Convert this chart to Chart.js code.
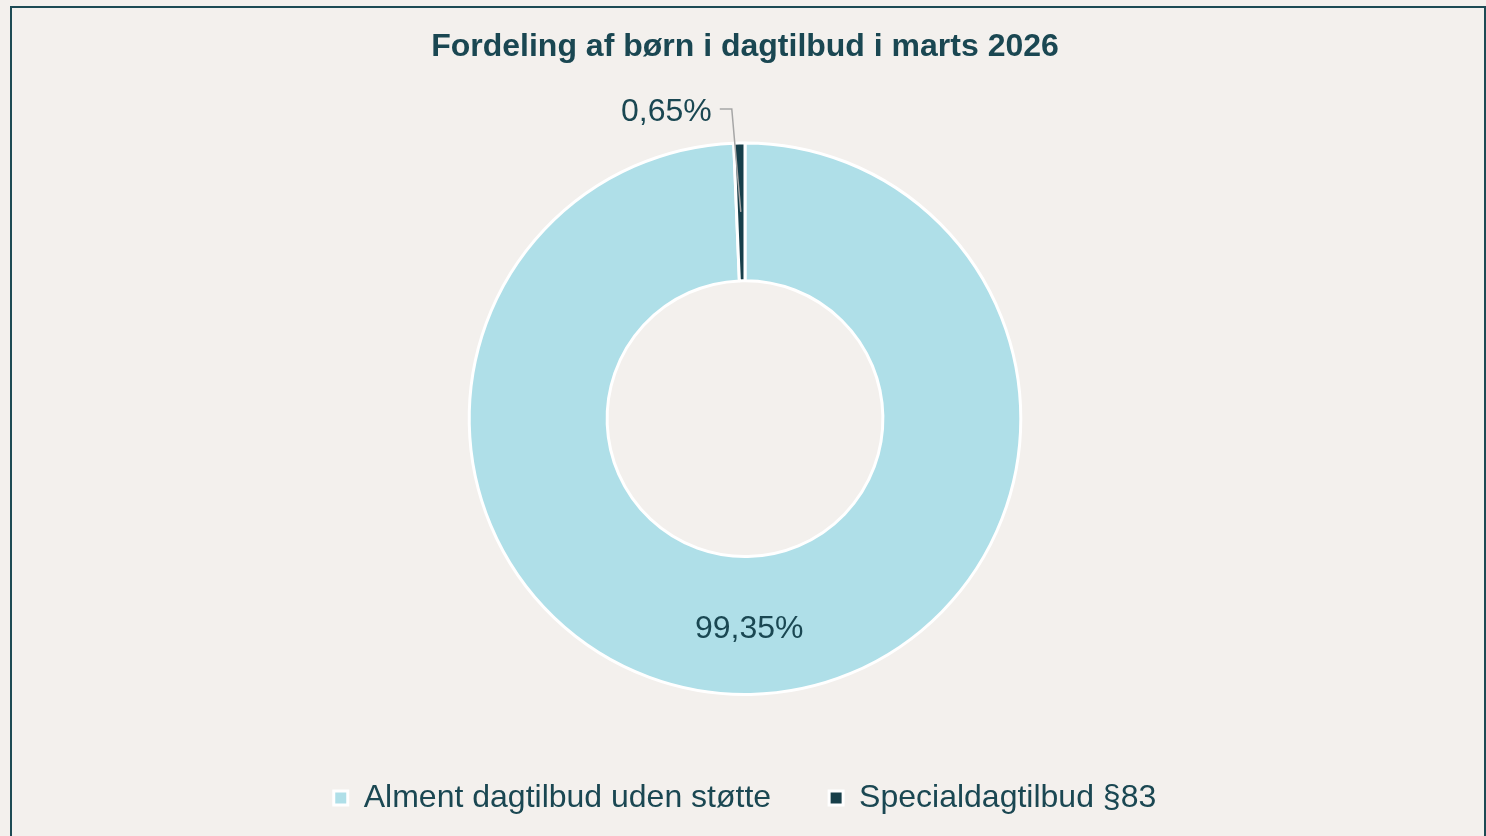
<!DOCTYPE html>
<html>
<head>
<meta charset="utf-8">
<script src="https://cdn.jsdelivr.net/npm/chart.js@4"></script>
<style>
  html, body { margin: 0; padding: 0; background: #f3f0ed; overflow: hidden; }
  #frame {
    position: absolute; left: 10px; top: 6px; width: 1472px; height: 850px;
    border: 2px solid #1d4a54; box-sizing: content-box;
  }
  #wrap { position: absolute; left: 0; top: 0; width: 1486px; height: 836px; }
</style>
</head>
<body>
<div id="frame"></div>
<div id="wrap"><canvas id="chart"></canvas></div>
<script>
const categories = ['Alment dagtilbud uden støtte', 'Specialdagtilbud §83'];
const shares = [99.35, 0.65];
const sliceColors = ['#afdfe8', '#173f4a'];
const chartTitle = 'Fordeling af børn i dagtilbud i marts 2026';
const textColor = '#1a4752';
const fontFamily = '"Liberation Sans", Arial, sans-serif';

const formatPct = v => v.toFixed(2).replace('.', ',') + '%';

// Draws the percentage labels, with a leader line for the thin slice
const sliceLabels = {
    id: 'sliceLabels',
    afterDatasetsDraw(chart) {
        const ctx = chart.ctx;
        const arcs = chart.getDatasetMeta(0).data;
        ctx.save();
        ctx.font = '32px ' + fontFamily;
        ctx.fillStyle = textColor;
        ctx.textBaseline = 'middle';
        arcs.forEach((arc, i) => {
            const p = arc.tooltipPosition();
            const text = formatPct(shares[i]);
            if (shares[i] > 5) {
                ctx.textAlign = 'center';
                ctx.fillText(text, p.x, p.y + 4);
            } else {
                const top = arc.y - arc.outerRadius - 34;
                ctx.strokeStyle = '#a6a6a6';
                ctx.lineWidth = 1.5;
                ctx.beginPath();
                ctx.moveTo(p.x, p.y);
                ctx.lineTo(p.x - 9, top);
                ctx.lineTo(p.x - 21, top);
                ctx.stroke();
                ctx.textAlign = 'right';
                ctx.fillText(text, p.x - 29, top + 3);
            }
        });
        ctx.restore();
    }
};

new Chart(document.getElementById('chart'), {
    type: 'doughnut',
    data: {
        labels: categories,
        datasets: [{
            data: shares,
            backgroundColor: sliceColors,
            borderColor: '#ffffff',
            borderWidth: 3
        }]
    },
    options: {
        responsive: true,
        maintainAspectRatio: false,
        animation: false,
        cutout: '50%',
        layout: { padding: { top: 0, bottom: 12, left: 4, right: 0 } },
        plugins: {
            title: {
                display: true,
                text: chartTitle,
                color: textColor,
                font: { family: fontFamily, size: 32, weight: 'bold' },
                padding: { top: 28, bottom: 75 }
            },
            legend: {
                position: 'bottom',
                title: { display: true, text: '', font: { size: 10 }, padding: 8 },
                labels: {
                    color: textColor,
                    font: { family: fontFamily, size: 32 },
                    boxWidth: 14,
                    boxHeight: 14,
                    padding: 58
                }
            },
            tooltip: { enabled: false }
        }
    },
    plugins: [sliceLabels]
});
</script>
</body>
</html>
